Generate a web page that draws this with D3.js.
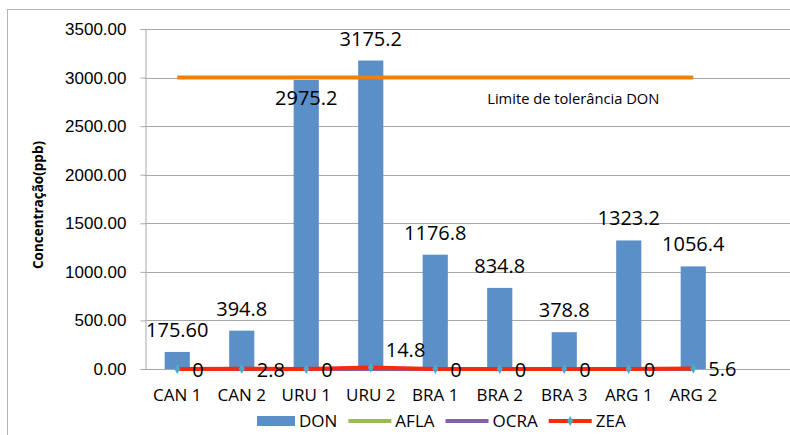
<!DOCTYPE html>
<html>
<head>
<meta charset="utf-8">
<script src="https://cdn.jsdelivr.net/npm/d3@7"></script>
<style>
  body { margin: 0; background: #fff; }
  svg { font-family: "Open Sans", sans-serif; display: block; }
</style>
</head>
<body>
<div id="chart"></div>
<script>
// data
var categories = ["CAN 1", "CAN 2", "URU 1", "URU 2", "BRA 1", "BRA 2", "BRA 3", "ARG 1", "ARG 2"];
var donValues  = [175.6, 394.8, 2975.2, 3175.2, 1176.8, 834.8, 378.8, 1323.2, 1056.4];
var donLabels  = ["175.60", "394.8", "2975.2", "3175.2", "1176.8", "834.8", "378.8", "1323.2", "1056.4"];
var aflaValues = [0, 0, 0, 0, 0, 0, 0, 0, 0];
var ocraValues = [0, 0, 0, 0, 0, 0, 0, 0, 0];
var zeaValues  = [0, 2.8, 0, 14.8, 0, 0, 0, 0, 5.6];
var limitValue = 3000;
var limitLabel = "Limite de tolerância DON";
var yTicks     = [0, 500, 1000, 1500, 2000, 2500, 3000, 3500];
var seriesNames = ["DON", "AFLA", "OCRA", "ZEA"];

var colors = {DON: "#5b8fc8", AFLA: "#9bbb59", OCRA: "#8064a2", ZEA: "#f8290d", marker: "#4bacc6", limit: "#f08008"};

var W = 790, H = 435;
var m = {l: 145, t: 29, r: 0, b: 66};
var plotW = W - m.l - m.r, plotH = H - m.t - m.b;
var step = 64.5;

var svg = d3.select("#chart").append("svg").attr("width", W).attr("height", H);

// outer chart frame (cropped at right/bottom)
svg.append("rect").attr("x", 7.5).attr("y", 9.5).attr("width", 900).attr("height", 600)
    .attr("fill", "none").attr("stroke", "#b4b4b4");

var g = svg.append("g").attr("transform", "translate(" + m.l + "," + m.t + ")");

var x = d3.scaleBand().domain(categories).range([0, step * categories.length])
    .paddingInner(0.61).paddingOuter(0.305);
var y = d3.scaleLinear().domain([0, 3500]).range([plotH, 0]);
function cx(c) { return x(c) + x.bandwidth() / 2; }

// gridlines
g.selectAll(".grid").data(yTicks).enter().append("line")
    .attr("x1", 0).attr("x2", plotW)
    .attr("y1", function(d) { return Math.round(y(d)) + 0.5; })
    .attr("y2", function(d) { return Math.round(y(d)) + 0.5; })
    .attr("stroke", "#a8a8a8");

// y axis
var yAxis = g.append("g").attr("transform", "translate(0.5,0)")
    .call(d3.axisLeft(y).tickValues(yTicks).tickFormat(d3.format(".2f")).tickSize(5).tickPadding(14));
yAxis.select(".domain").attr("stroke", "#a8a8a8");
yAxis.selectAll(".tick line").attr("stroke", "#a8a8a8");
yAxis.selectAll("text").style("font-size", "17px").attr("fill", "#000");

// axis title
svg.append("text").attr("transform", "translate(43,205) rotate(-90)")
    .attr("text-anchor", "middle").style("font-size", "13.5px").style("font-weight", "bold")
    .text("Concentração(ppb)");

// x labels
g.selectAll(".xl").data(categories).enter().append("text")
    .attr("x", cx).attr("y", plotH + 32)
    .attr("text-anchor", "middle").style("font-size", "17px")
    .text(function(d) { return d; });

// DON bars
var donData = categories.map(function(c, i) { return {c: c, v: donValues[i], l: donLabels[i]}; });
g.selectAll(".bar").data(donData).enter().append("rect")
    .attr("x", function(d) { return x(d.c); })
    .attr("y", function(d) { return y(d.v); })
    .attr("width", x.bandwidth())
    .attr("height", function(d) { return plotH - y(d.v); })
    .attr("fill", colors.DON);

// limit line
var line = d3.line().x(function(d) { return cx(d.c); }).y(function(d) { return y(d.v); });
g.append("path").datum(categories.map(function(c) { return {c: c, v: limitValue}; }))
    .attr("d", line).attr("fill", "none").attr("stroke", colors.limit).attr("stroke-width", 4);

g.append("text").attr("x", cx("BRA 3") - 77).attr("y", y(limitValue) + 26)
    .style("font-size", "14.7px").text(limitLabel);

// DON labels (moved under the limit line when they would sit on it)
g.selectAll(".dl").data(donData).enter().append("text")
    .attr("x", function(d) { return cx(d.c); })
    .attr("y", function(d) {
        var near = d.v < limitValue && limitValue - d.v < 300;
        return near ? y(d.v) + 25 : y(d.v) - 15;
    })
    .attr("text-anchor", "middle").style("font-size", "20px")
    .text(function(d) { return d.l; });

// zero-valued line series
[["AFLA", aflaValues], ["OCRA", ocraValues], ["ZEA", zeaValues]].forEach(function(s) {
    var pts = categories.map(function(c, i) { return {c: c, v: s[1][i]}; });
    g.append("path").datum(pts).attr("d", line).attr("fill", "none")
        .attr("stroke", colors[s[0]]).attr("stroke-width", 4);
});

var zeaData = categories.map(function(c, i) { return {c: c, v: zeaValues[i]}; });
var diamond = d3.symbol().type(d3.symbolDiamond).size(30);
g.selectAll(".zm").data(zeaData).enter().append("path")
    .attr("d", diamond)
    .attr("transform", function(d) { return "translate(" + cx(d.c) + "," + y(d.v) + ")"; })
    .attr("fill", colors.marker);
g.selectAll(".zl").data(zeaData).enter().append("text")
    .attr("x", function(d) { return cx(d.c) + 15; })
    .attr("y", function(d) { return y(d.v) + (d.v > 10 ? -11 : 8); })
    .style("font-size", "20px")
    .text(function(d) { return d3.format("")(d.v); });

// legend
var leg = svg.append("g");
var lx = 0;
seriesNames.forEach(function(name, i) {
    var it = leg.append("g").attr("transform", "translate(" + lx + ",0)");
    var sw;
    if (name === "DON") {
        sw = 38;
        it.append("rect").attr("x", 0).attr("y", -5).attr("width", sw).attr("height", 10).attr("fill", colors.DON);
    } else {
        sw = 43;
        it.append("line").attr("x1", 0).attr("x2", sw).attr("y1", 0).attr("y2", 0)
            .attr("stroke", colors[name]).attr("stroke-width", 4);
        if (name === "ZEA") it.append("path").attr("d", diamond).attr("transform", "translate(" + sw / 2 + ",0)").attr("fill", colors.marker);
    }
    var t = it.append("text").attr("x", sw + 4).attr("y", 6).style("font-size", "17px").text(name);
    lx += sw + 4 + t.node().getComputedTextLength() + 11;
});
leg.attr("transform", "translate(257,421)");
</script>
</body>
</html>
